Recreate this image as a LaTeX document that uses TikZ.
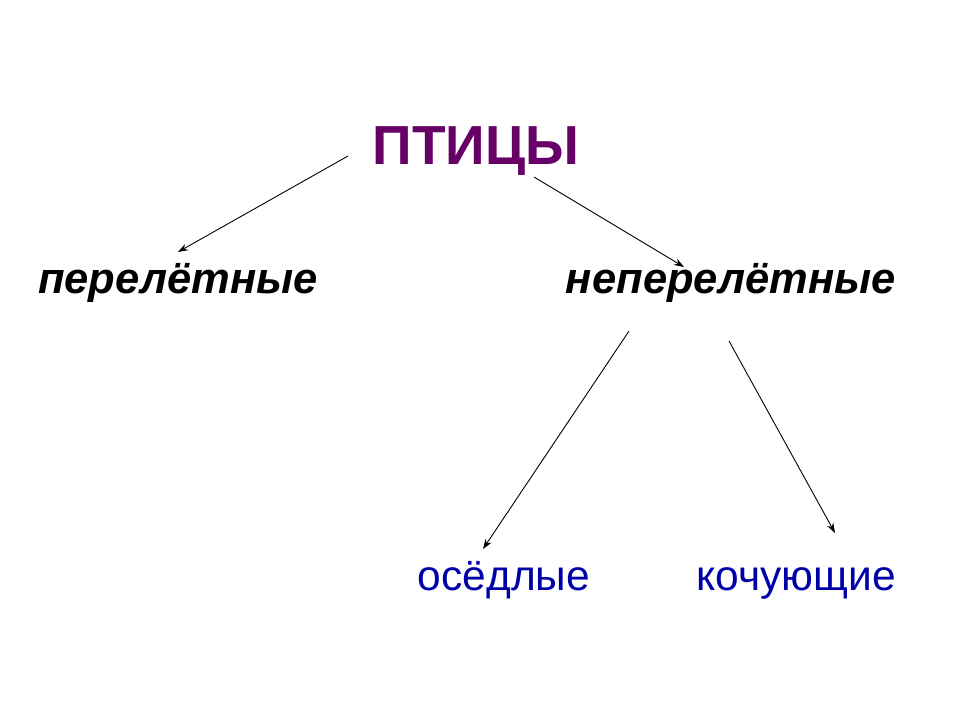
\documentclass[tikz,border=0pt]{standalone}
\usepackage{fontspec}
\setmainfont{Liberation Sans}
\usetikzlibrary{arrows.meta}
\definecolor{birdpurple}{HTML}{660066}
\definecolor{kindblue}{HTML}{0000A8}
\tikzset{
  title/.style={font=\fontsize{55}{60}\selectfont\bfseries, text=birdpurple, inner sep=0pt, anchor=base},
  group/.style={font=\fontsize{43.5}{48}\selectfont\bfseries\itshape, text=black, inner sep=0pt, anchor=base},
  kind/.style={font=\fontsize{42.5}{46}\selectfont, text=kindblue, inner sep=0pt, anchor=base},
  arr/.style={draw=black, line width=0.9pt, -{Stealth[length=10pt,width=7pt]}}
}
\begin{document}
\begin{tikzpicture}[x=1pt,y=1pt]
\useasboundingbox (0,0) rectangle (960,-720);
\node[title] (birds) at (476,-164) {ПТИЦЫ};
\node[group] (migr) at (178,-293) {перелётные};
\node[group] (nonmigr) at (731,-293) {неперелётные};
\node[kind] (sed) at (504,-590) {осёдлые};
\node[kind] (nomad) at (796,-590) {кочующие};
\draw[arr] ([shift={(-128,8)}]birds.base) -- ([shift={(0,41)}]migr.base);
\draw[arr] ([shift={(58,-13)}]birds.base) -- ([shift={(-47,26)}]nonmigr.base);
\draw[arr] ([shift={(-102,-38)}]nonmigr.base) -- ([shift={(-21,41)}]sed.base);
\draw[arr] ([shift={(-2,-48)}]nonmigr.base) -- ([shift={(39,57)}]nomad.base);
\end{tikzpicture}
\end{document}
